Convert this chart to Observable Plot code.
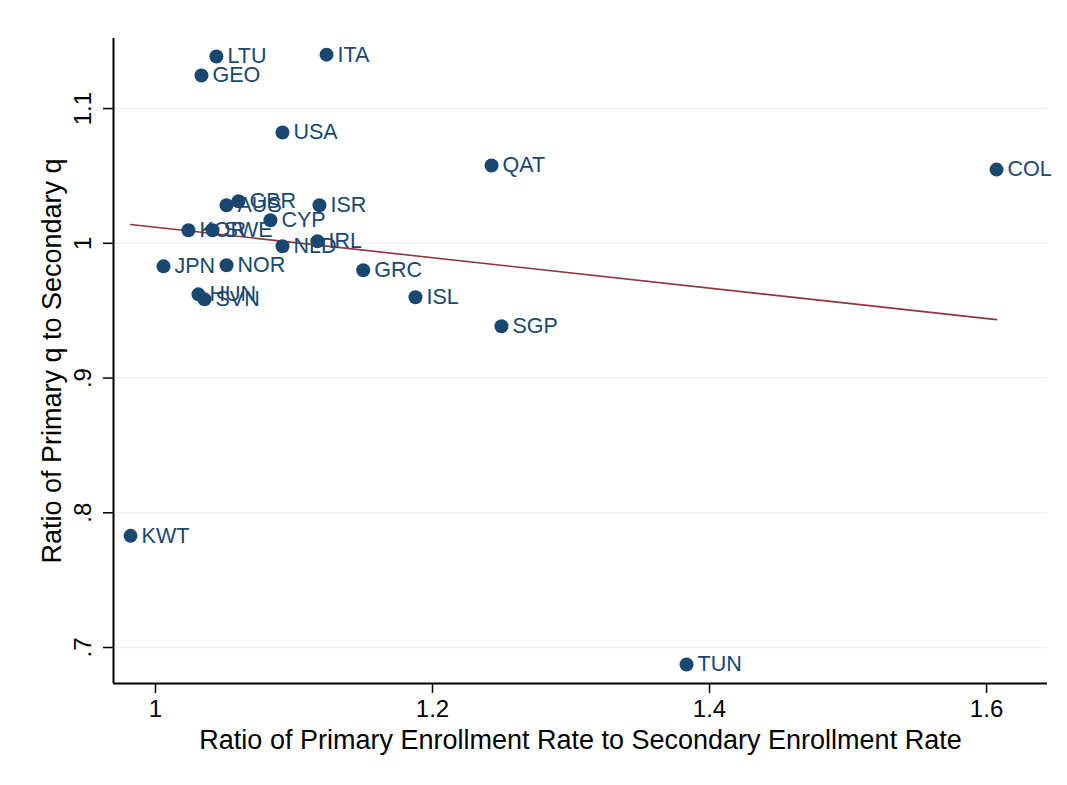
<!DOCTYPE html>
<html>
<head>
<meta charset="utf-8">
<script src="https://cdn.jsdelivr.net/npm/d3@7"></script>
<script src="https://cdn.jsdelivr.net/npm/@observablehq/plot@0.6"></script>
<style>
  html, body { margin: 0; padding: 0; background: #fff; }
  #chart svg { display: block; }
</style>
</head>
<body>
<div id="chart"></div>
<script>
const countries = ["LTU","ITA","GEO","USA","QAT","COL","GBR","AUS","ISR","CYP","KOR","SWE","NLD","IRL","JPN","NOR","GRC","HUN","SVN","ISL","SGP","KWT","TUN"];
const enrollRatio = [1.044,1.1235,1.0332,1.0917,1.2426,1.6072,1.0599,1.0513,1.1184,1.083,1.0238,1.0412,1.0917,1.117,1.0058,1.0513,1.150,1.031,1.0354,1.1877,1.2498,0.982,1.3834];
const qRatio = [1.1386,1.140,1.1245,1.0822,1.0577,1.0547,1.0312,1.0282,1.0282,1.0171,1.0097,1.0097,0.9978,1.0015,0.9829,0.9837,0.980,0.9621,0.9584,0.960,0.9384,0.7829,0.6874];
const xTicks = [1, 1.2, 1.4, 1.6];
const yTicks = [0.7, 0.8, 0.9, 1, 1.1];
const xDomain = [0.9697, 1.644];
const yDomain = [0.6733, 1.152];
const xTitle = "Ratio of Primary Enrollment Rate to Secondary Enrollment Rate";
const yTitle = "Ratio of Primary q to Secondary q";

const data = countries.map((c, i) => ({country: c, x: enrollRatio[i], y: qRatio[i]}));
const fmt = d => String(d).replace(/^0\./, ".");
const font = "'Liberation Sans', Arial, Helvetica, sans-serif";
const navy = "#1a476f";

const chart = Plot.plot({
  width: 1067,
  height: 785,
  marginLeft: 113,
  marginRight: 20,
  marginTop: 38,
  marginBottom: 102,
  style: {fontFamily: font, background: "#fff"},
  x: {domain: xDomain},
  y: {domain: yDomain},
  marks: [
    Plot.ruleY(yTicks, {stroke: "#eaf2f3", strokeWidth: 1.6}),
    Plot.linearRegressionY(data, {x: "x", y: "y", stroke: "#90353b", strokeWidth: 1.6, ci: 0}),
    Plot.dot(data, {x: "x", y: "y", r: 7, fill: navy, stroke: "none"}),
    Plot.text(data, {x: "x", y: "y", text: "country", dx: 11, textAnchor: "start", fill: navy, fontSize: 21.5}),
    Plot.ruleX([xDomain[0]], {stroke: "#000", strokeWidth: 2}),
    Plot.ruleY([yDomain[0]], {stroke: "#000", strokeWidth: 2}),
    Plot.axisX({ticks: xTicks, tickSize: 10, tickPadding: 6, tickFormat: fmt, fontSize: 24, label: null, stroke: "#000", strokeWidth: 1.5, fill: "#000"}),
    Plot.axisY({ticks: yTicks, tickSize: 10, tickFormat: () => "", label: null, stroke: "#000", strokeWidth: 1.5}),
    Plot.text(yTicks, {y: d => d, text: fmt, frameAnchor: "left", dx: -30, rotate: -90, textAnchor: "middle", lineAnchor: "middle", fontSize: 24, fill: "#000"}),
    Plot.text([xTitle], {frameAnchor: "bottom", dy: 57, textAnchor: "middle", lineAnchor: "middle", fontSize: 27, fill: "#000"}),
    Plot.text([yTitle], {frameAnchor: "left", dx: -61, rotate: -90, textAnchor: "middle", lineAnchor: "middle", fontSize: 27, fill: "#000"})
  ]
});
document.getElementById("chart").appendChild(chart);
</script>
</body>
</html>
